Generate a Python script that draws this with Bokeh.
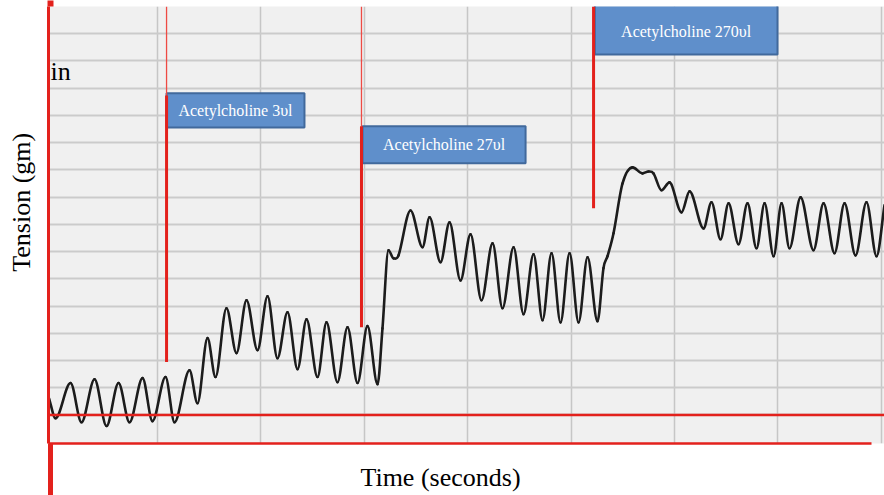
import numpy as np
from bokeh.plotting import figure
from bokeh.models import Range1d, FixedTicker, LinearAxis, Span
from bokeh.core.properties import value
from bokeh.embed import file_html
from bokeh.resources import INLINE

# ---- data (time in s, tension in gm) ----
trace_t = [-0.45, 0.18, 1.63, 2.69, 3.95, 5.11, 6.27, 7.33, 8.59, 9.55, 10.81, 11.68,
           13.13, 13.90, 14.87, 15.64, 16.70, 17.67, 18.64, 19.70, 20.67, 21.63, 22.60,
           23.57, 24.44, 25.50, 26.37, 27.43, 28.40, 29.37, 30.33, 31.30, 31.78, 32.36,
           32.85, 33.33, 34.49, 35.65, 36.33, 37.39, 38.26, 39.32, 40.29, 41.35, 42.42,
           43.38, 44.45, 45.41, 46.38, 47.25, 48.12, 48.99, 49.86, 50.73, 51.60, 52.56,
           53.14, 53.53, 54.11, 54.98, 55.95, 56.91, 57.49, 57.98, 58.75, 59.52, 60.68,
           61.46, 62.81, 63.58, 64.45, 65.23, 66.19, 67.06, 67.93, 68.71, 69.58, 70.35,
           71.12, 72.19, 73.44, 74.41, 75.47, 76.44, 77.50, 78.56, 79.53, 80.3]
trace_tension = [1.61, 0.88, 2.17, 0.73, 2.31, 0.59, 2.17, 0.73, 2.35, 0.77, 2.39, 0.73,
                 2.64, 1.43, 3.82, 2.39, 4.92, 3.27, 5.21, 3.38, 5.36, 3.08, 4.77,
                 2.68, 4.51, 2.39, 4.40, 2.20, 4.22, 2.17, 4.26, 2.13, 4.18, 7.05,
                 6.75, 6.86, 8.51, 7.16, 8.26, 6.61, 8.07, 5.94, 7.63, 5.21, 7.30,
                 4.92, 7.16, 4.70, 6.90, 4.48, 6.94, 4.40, 6.94, 4.40, 6.79, 4.44,
                 6.39, 6.83, 7.67, 9.50, 10.09, 9.87, 9.94, 9.87, 9.25, 9.54, 8.44,
                 9.21, 7.85, 8.81, 7.45, 8.77, 7.27, 8.77, 7.12, 8.77, 6.83, 8.77,
                 7.12, 8.99, 7.05, 8.77, 6.94, 8.77, 6.86, 8.81, 6.83, 8.70]

dose_times = [10.91, 29.75, 52.18]
dose_labels = ["Acetylcholine 3\u03c5l", "Acetylcholine 27\u03c5l", "Acetylcholine 270\u03c5l"]
marker_low = [2.94, 4.22, 8.59]     # lower end of the thick marker
marker_high = [12.73, 11.60, 16.0]  # where the thick marker ends / thin part begins
baseline_level = 1.0

# label box layout (annotation geometry)
box_width = [13.33, 15.76, 17.66]
box_bottom = [11.56, 10.24, 14.24]
box_top = [12.81, 11.60, 16.1]

RED = "#e3211c"
SERIF = "Liberation Serif"
NB = "\u00a0"

p = figure(width=884, height=495,
           x_range=Range1d(-0.5, 80.3), y_range=Range1d(-0.05, 16.0),
           output_backend="svg", toolbar_location=None,
           min_border_left=48, min_border_right=0, min_border_top=6, min_border_bottom=52)
p.background_fill_color = "#f0f0f0"
p.border_fill_color = "white"
p.outline_line_color = None

# x axis (below): red bottom line, red extension of the left edge as a long tick
xa = p.xaxis[0]
xa.ticker = FixedTicker(ticks=[-0.3])
xa.major_label_overrides = {-0.3: ""}
xa.bounds = (-0.5, 79.05)
xa.axis_line_color = RED
xa.axis_line_width = 2.5
xa.major_tick_in = 0
xa.major_tick_out = 52
xa.major_tick_line_color = RED
xa.major_tick_line_width = 5
xa.minor_tick_line_color = None
xa.major_label_text_font_size = "0px"
xa.major_label_standoff = 0
xa.axis_label = "Time (seconds)" + NB * 8
xa.axis_label_text_font = SERIF
xa.axis_label_text_font_size = "26px"
xa.axis_label_text_font_style = "normal"
xa.axis_label_text_color = "black"
xa.axis_label_standoff = -33

ya = p.yaxis[0]
ya.ticker = FixedTicker(ticks=[])
ya.axis_line_color = RED
ya.axis_line_width = 3
ya.major_tick_line_color = None
ya.minor_tick_line_color = None
ya.axis_label = NB * 7 + "Tension (gm)"
ya.axis_label_text_font = SERIF
ya.axis_label_text_font_size = "26px"
ya.axis_label_text_font_style = "normal"
ya.axis_label_text_color = "black"
ya.axis_label_standoff = 13

top_axis = LinearAxis(ticker=FixedTicker(ticks=[-0.3]), axis_line_color=None,
                      major_tick_in=0, major_tick_out=6, major_tick_line_color=RED,
                      major_tick_line_width=6, minor_tick_line_color=None,
                      major_label_overrides={-0.3: ""},
                      major_label_text_font_size="0px", major_label_standoff=0)
p.add_layout(top_axis, "above")

p.xgrid.ticker = FixedTicker(ticks=[10, 20, 30, 40, 50, 60, 70, 80])
p.xgrid.grid_line_color = "#c6c6c6"
p.xgrid.grid_line_width = 1.5
p.ygrid.ticker = FixedTicker(ticks=list(range(1, 16)))
p.ygrid.grid_line_color = "#cbcbcb"
p.ygrid.grid_line_width = 2

# baseline
p.add_layout(Span(location=baseline_level, dimension="width", line_color=RED, line_width=2.5))

# fragment of a cut-off caption
p.text(x=[-0.3], y=[13.61], text=["in"], text_font=value(SERIF), text_font_size="26px",
       text_baseline="middle", text_align="left", text_color="black")

# label boxes
left = np.array(dose_times) + np.array([0.0, 0.1, 0.12])
right = left + np.array(box_width)
p.quad(left=left, right=right, bottom=box_bottom, top=box_top,
       fill_color="#5f8fcb", line_color="#41699c", line_width=2)
p.text(x=(left + right) / 2, y=(np.array(box_bottom) + np.minimum(box_top, 15.95)) / 2,
       text=dose_labels, text_font=value(SERIF), text_font_size="16px",
       text_color="white", text_align="center", text_baseline="middle")

# dose markers
p.segment(x0=dose_times[:2], y0=marker_high[:2], x1=dose_times[:2], y1=[16.0, 16.0],
          line_color="#ee4a44", line_width=1.3)
p.segment(x0=dose_times, y0=marker_low, x1=dose_times, y1=marker_high,
          line_color=RED, line_width=3)

# smooth trace through the read points (cubic Hermite drawn as Bezier segments)
t = np.array(trace_t)
v = np.array(trace_tension)
m = np.zeros_like(v)
n = len(v)
for i in range(n):
    if i == 0:
        m[i] = (v[1] - v[0]) / (t[1] - t[0])
    elif i == n - 1:
        m[i] = (v[-1] - v[-2]) / (t[-1] - t[-2])
    elif (v[i] - v[i - 1]) * (v[i + 1] - v[i]) <= 0:
        m[i] = 0.0
    else:
        m[i] = (v[i + 1] - v[i - 1]) / (t[i + 1] - t[i - 1])
dt = np.diff(t)
p.bezier(x0=t[:-1], y0=v[:-1], x1=t[1:], y1=v[1:],
         cx0=t[:-1] + dt / 3, cy0=v[:-1] + m[:-1] * dt / 3,
         cx1=t[1:] - dt / 3, cy1=v[1:] - m[1:] * dt / 3,
         line_color="#1c1c1c", line_width=2.6, line_cap="round")

open("out.html", "w").write(file_html(p, INLINE))
